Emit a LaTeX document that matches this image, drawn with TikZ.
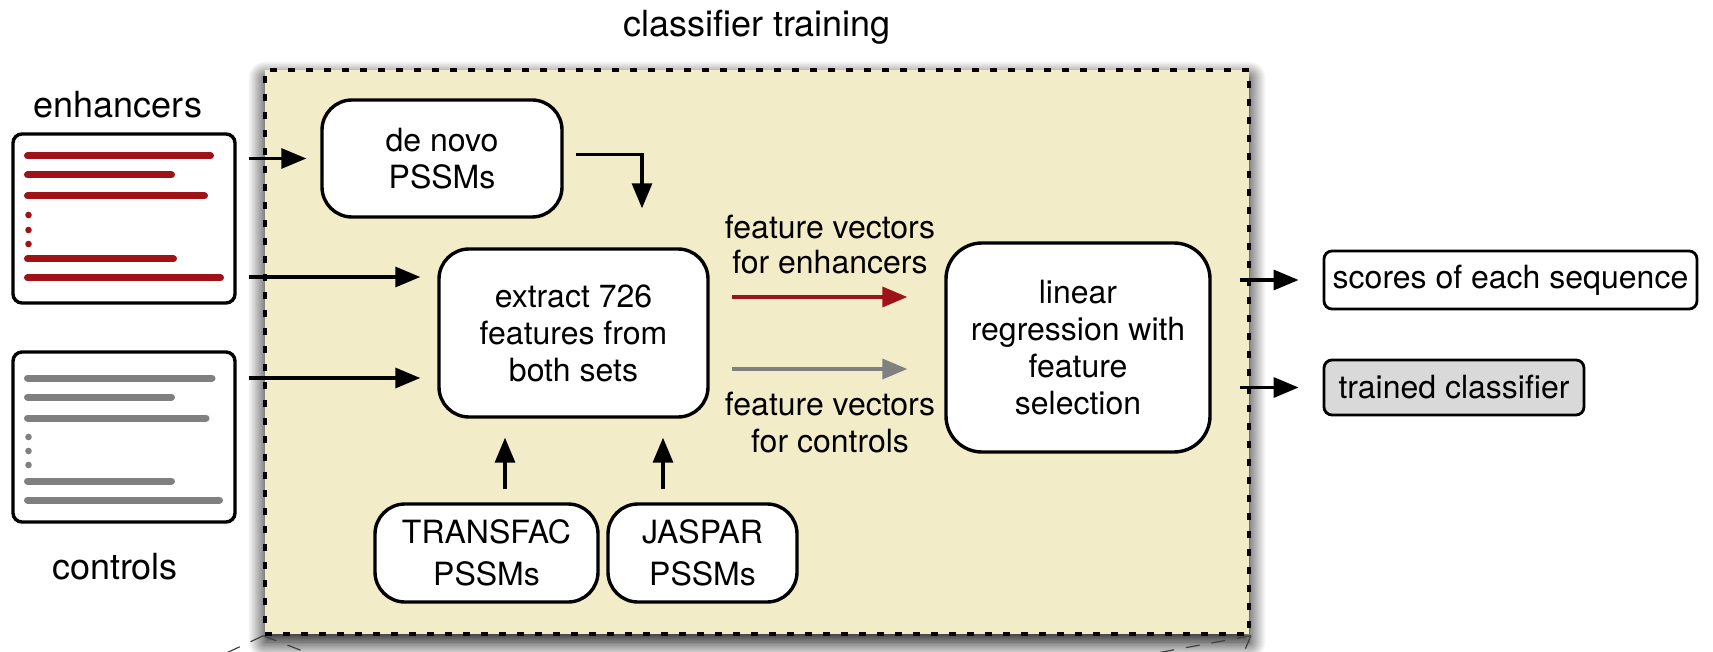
\documentclass[tikz,border=0pt]{standalone}
\usepackage{fontspec}
\setmainfont{TeX Gyre Heros}
\usetikzlibrary{arrows.meta,shadows.blur}

\definecolor{panelfill}{RGB}{243,236,200}
\definecolor{enhred}{RGB}{158,18,24}
\definecolor{ctrlgray}{RGB}{128,128,128}
\definecolor{outgray}{RGB}{217,217,217}

\tikzset{
  lbl/.style={font=\fontsize{36}{40}\selectfont, inner sep=0pt, anchor=base},
  boxtext/.style={font=\fontsize{32}{37}\selectfont, align=center, inner sep=0pt},
  roundbox/.style={boxtext, draw=black, line width=3.4pt, fill=white, rounded corners=30pt},
  listbox/.style={draw=black, line width=3.4pt, fill=white, rounded corners=9pt, inner sep=0pt},
  outbox/.style={boxtext, draw=black, line width=2.8pt, rounded corners=8pt},
  tip/.style={-{Triangle[length=25pt,width=20pt]}},
  arr/.style={tip, line width=3.2pt},
  seqline/.style={line width=7pt, line cap=round},
  callout/.style={line width=1.2pt, draw=black!75, dash pattern=on 14pt off 12pt}
}

\begin{document}
\begin{tikzpicture}[x=1pt,y=-1pt]
\useasboundingbox (0,0) rectangle (1713,652);

% training panel
\node[draw=black, fill=panelfill, line width=3.5pt, dash pattern=on 7pt off 11pt,
      minimum width=984pt, minimum height=564pt, inner sep=0pt,
      blur shadow={shadow xshift=0pt, shadow yshift=-8pt, shadow blur radius=17pt,
                   shadow blur steps=30, shadow opacity=100}]
      (panel) at (757,352) {};
\draw[callout] (panel.south west) -- ++(-47,22);
\draw[callout] (panel.south west) -- ++(57,22);
\draw[callout] (panel.south east) -- ++(-120,22);
\draw[callout] (panel.south east) -- ++(-9,22);

\node[lbl] (title) at (757,37) {classifier training};

% input sequence sets
\node[lbl] (enhlbl) at (118,118) {enhancers};
\node[listbox, minimum width=222pt, minimum height=169pt] (enh) at (124,218.5) {};
\node[lbl] (ctrllbl) at (115,579) {controls};
\node[listbox, minimum width=222pt, minimum height=170pt] (ctrl) at (124,437) {};

\begin{scope}[enhred]
  \draw[seqline] (27.5,156) -- (210.5,156);
  \draw[seqline] (27.5,175) -- (171.5,175);
  \draw[seqline] (27.5,196) -- (204.5,196);
  \fill (28.5,215) circle (3.3pt) (28.5,230) circle (3.3pt) (28.5,244) circle (3.3pt);
  \draw[seqline] (27.5,259) -- (173.5,259);
  \draw[seqline] (27.5,278) -- (220.5,278);
\end{scope}
\begin{scope}[ctrlgray]
  \draw[seqline] (27.5,378) -- (212,378);
  \draw[seqline] (27.5,397) -- (171.5,397);
  \draw[seqline] (27.5,418) -- (206,418);
  \fill (28.5,437) circle (3.3pt) (28.5,451) circle (3.3pt) (28.5,465) circle (3.3pt);
  \draw[seqline] (27.5,481) -- (171.5,481);
  \draw[seqline] (27.5,500) -- (219.5,500);
\end{scope}

% processing steps
\node[roundbox, minimum width=240pt, minimum height=117pt] (denovo) at (442,158.5) {de novo\\PSSMs};
\node[roundbox, minimum width=269pt, minimum height=168pt] (extract) at (573.5,333) {extract 726\\features from\\both sets};
\node[roundbox, font=\fontsize{32}{42}\selectfont, minimum width=223pt, minimum height=98pt] (tf) at (486.5,553) {TRANSFAC\\PSSMs};
\node[roundbox, font=\fontsize{32}{42}\selectfont, minimum width=189pt, minimum height=98pt] (jaspar) at (702.5,553) {JASPAR\\PSSMs};
\node[roundbox, rounded corners=36pt, minimum width=264pt, minimum height=209pt] (lr) at (1078,347.5) {linear\\regression with\\feature\\selection};

% outputs
\node[outbox, minimum width=373pt, minimum height=58pt] (scores) at (1510.5,280) {scores of each sequence};
\node[outbox, fill=outgray, minimum width=260pt, minimum height=55pt] (trained) at (1454,387.5) {trained classifier};

% connectors
\coordinate (exin1) at ([yshift=56pt]extract.west);
\coordinate (exin2) at ([yshift=-45pt]extract.west);
\coordinate (exin3) at ([xshift=68.5pt]extract.north);
\coordinate (tfout) at ([xshift=18.5pt]tf.north);
\coordinate (jpout) at ([xshift=-39.5pt]jaspar.north);
\coordinate (fvup) at ([yshift=36pt]extract.east);
\coordinate (fvdn) at ([yshift=-36pt]extract.east);

\draw[arr, shorten <=12pt, shorten >=14pt] (enh.east |- denovo.west) -- (denovo.west);
\draw[arr, shorten <=12pt, shorten >=17pt] (enh.east |- exin1) -- (exin1);
\draw[arr, shorten <=12pt, shorten >=17pt] (ctrl.east |- exin2) -- (exin2);
\draw[arr, shorten <=12pt, shorten >=39pt] ([yshift=4pt]denovo.east) -| (exin3);
\draw[arr, shorten <=13pt, shorten >=19pt] (tfout) -- (tfout |- extract.south);
\draw[arr, shorten <=13pt, shorten >=19pt] (jpout) -- (jpout |- extract.south);

\draw[tip, line width=3.5pt, draw=enhred, fill=enhred, shorten <=22pt, shorten >=37pt] (fvup) -- (fvup -| lr.west);
\draw[tip, line width=3.5pt, draw=ctrlgray, fill=ctrlgray, shorten <=22pt, shorten >=37pt] (fvdn) -- (fvdn -| lr.west);
\node[boxtext, font=\fontsize{32}{35}\selectfont] (fvenh) at (830,245) {feature vectors\\for enhancers};
\node[boxtext, font=\fontsize{32}{37}\selectfont] (fvctrl) at (830,423) {feature vectors\\for controls};

\draw[arr, shorten <=28pt, shorten >=24pt] (lr.east |- scores.west) -- (scores.west);
\draw[arr, shorten <=28pt, shorten >=24pt] (lr.east |- trained.west) -- (trained.west);
\end{tikzpicture}
\end{document}
